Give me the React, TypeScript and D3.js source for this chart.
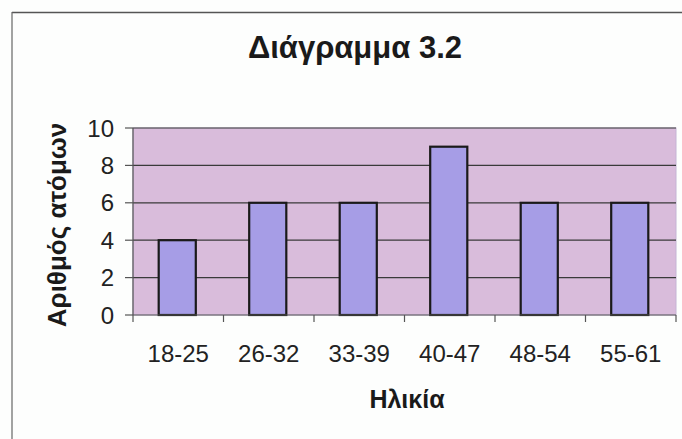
import React from "react";
import * as d3 from "d3";

const categories = ["18-25", "26-32", "33-39", "40-47", "48-54", "55-61"];
const values = [4, 6, 6, 9, 6, 6];
const yTicks = [0, 2, 4, 6, 8, 10];
const title = "Διάγραμμα 3.2";
const xTitle = "Ηλικία";
const yTitle = "Αριθμός ατόμων";

export default function App() {
  const W = 682, H = 439;
  const m = { left: 133, right: 676, top: 128, bottom: 315 };
  const x = d3.scaleBand<string>().domain(categories).range([m.left, m.right]).paddingInner(0).paddingOuter(0);
  const y = d3.scaleLinear().domain([0, 10]).range([m.bottom, m.top]);
  const bw = x.bandwidth() * 0.41;
  const font = "Liberation Sans, Arial, sans-serif";
  const boundaries = [...categories.map((c) => x(c) as number), m.right];
  return (
    <svg width={W} height={H} style={{ position: "absolute", left: 0, top: 0, background: "#fdfefd" }}>
      <line x1={12} y1={12.5} x2={W} y2={12.5} stroke="#555" strokeWidth={1.5} />
      <line x1={12} y1={12} x2={12} y2={H} stroke="#666" strokeWidth={1.2} />
      <text x={355} y={58} textAnchor="middle" fontFamily={font} fontWeight="bold" fontSize={31} fill="#1a1a1a">{title}</text>
      <rect x={m.left} y={m.top} width={m.right - m.left} height={m.bottom - m.top} fill="#d9bcdb" stroke="#c4b4d4" strokeWidth={1} />
      {yTicks.filter((t) => t > 0).map((t) => (
        <line key={t} x1={m.left} x2={m.right} y1={y(t)} y2={y(t)} stroke="#3a3a3a" strokeWidth={1.2} />
      ))}
      {categories.map((c, i) => {
        const cx = (x(c) as number) + x.bandwidth() / 2 - 1;
        return (
          <rect key={c} x={cx - bw / 2} y={y(values[i])} width={bw} height={m.bottom - y(values[i])} fill="#a69de6" stroke="#1a1a1a" strokeWidth={2.2} />
        );
      })}
      <line x1={m.left} x2={m.left} y1={m.top} y2={m.bottom} stroke="#555" strokeWidth={1.2} />
      <line x1={m.left} x2={m.right} y1={m.bottom} y2={m.bottom} stroke="#555" strokeWidth={1.2} />
      {yTicks.map((t) => (
        <g key={t}>
          <line x1={125} x2={m.left} y1={y(t)} y2={y(t)} stroke="#555" strokeWidth={1.2} />
          <text x={114} y={y(t) + 8.5} textAnchor="end" fontFamily={font} fontSize={24} fill="#222">{t}</text>
        </g>
      ))}
      {boundaries.map((b, i) => (
        <line key={i} x1={b} x2={b} y1={m.bottom} y2={m.bottom + 7} stroke="#555" strokeWidth={1.2} />
      ))}
      {categories.map((c) => (
        <text key={c} x={(x(c) as number) + x.bandwidth() / 2} y={362} textAnchor="middle" fontFamily={font} fontSize={24} fill="#222">{c}</text>
      ))}
      <text x={407} y={408} textAnchor="middle" fontFamily={font} fontWeight="bold" fontSize={25} fill="#1a1a1a">{xTitle}</text>
      <text transform={`translate(66,225) rotate(-90)`} textAnchor="middle" fontFamily={font} fontWeight="bold" fontSize={26} fill="#1a1a1a">{yTitle}</text>
    </svg>
  );
}
